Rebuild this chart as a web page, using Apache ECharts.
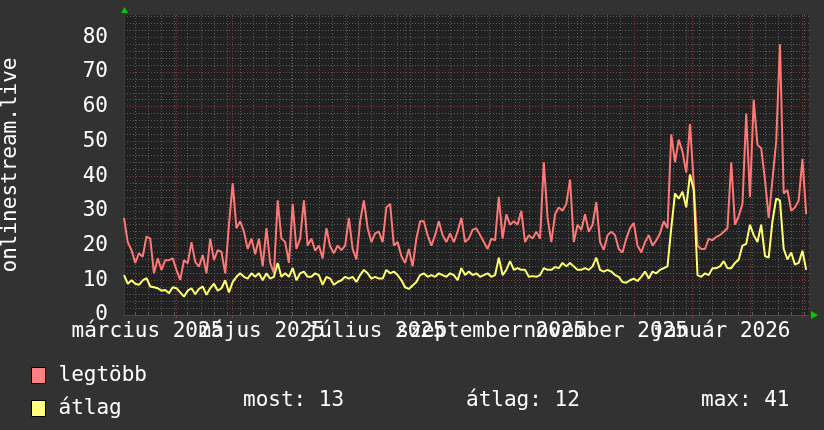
<!DOCTYPE html>
<html>
<head>
<meta charset="utf-8">
<script src="https://cdn.jsdelivr.net/npm/echarts@6/dist/echarts.min.js"></script>
<style>
html,body{margin:0;padding:0;background:#323232;}
#chart{width:824px;height:430px;}
</style>
</head>
<body>
<div id="chart"></div>
<script>
// ---- data (one value every 2 days, starting 2025-03-04) ----
const startYear = 2025, startMonth = 2, startDay = 4;
const stepDays = 2;
const seriesNames = ['legtöbb', 'átlag'];
const legtobb = [
 28,21,18.7,15,17.8,16.8,22.6,22,12,16.3,13,15.8,15.8,16.3,13,10.1,15.8,14.9,21,15.3,
 13.9,17.3,12,22,15.8,18.7,18.2,12,26,38,25,27,24,19,22,17.5,22,14,25,15,
 12,33,22,21,15,32,19,22,33,20,22,18.5,20,16.3,25,19.7,17.8,20,18.7,20,
 28,19,16,27,33,25,21,23.5,24,21,31,32,20,21,17,15,19,14,22,27,
 27,23,20,23,27,23,21,23.5,21,24,28,21,22,24.5,25,23,21,19,22,21.5,
 34,22,29,26,27,26,30,21,23,22,24,22,44,28,21,29,31,30,32,39,
 21,26,24.5,29,24,26,32.5,21,18.8,23,24,23,19,18,22,25,26.5,20,18,21,
 23,20,21.5,23.5,27,25,52,44,50.5,47,41,55,38,20,19,19,22,21.5,22.5,23,
 24,25,44,26,28.5,32,58,34,62,49,48,39,28,39,50,78,35,36,30,31,
 33,45,29
];
const atlag = [
 11.5,9,10,9,8.7,10,10.6,8.2,8,7.7,7,7.2,6.3,8,7.7,6.5,5.3,7,7.7,6,
 7.5,8.2,5.8,7.7,9,7,7.7,10,6.5,9.5,11,12,11,10.5,12,11,12,10,12,10.5,
 11,15,11,12,11,13.5,10,12,12.5,11,11,12,11.5,8.7,11,10.5,8.7,9.5,10,11,
 10.5,11,9.5,11.5,13,12,10.5,11,10.5,10.5,13,12,12.5,11.5,10,8,7.5,8.5,9.5,11.5,
 12,11,11.5,11,12,11.5,11,12,11.5,10,13.5,11.5,12.5,11.5,12,11,11.5,12,11,11.5,
 16.5,11.5,13,15.5,13,13.5,13,13,11,11.2,11,11.5,13.5,13,13,13.8,13.5,15,14,15,
 14,13,13,13.5,13,14,16.5,13,12.5,13,12.5,11.5,11,9.5,9.3,10,10.5,9.8,11,12.5,
 10.5,12.5,12,13,13.5,14,25,35,33.5,35.5,31,40.5,36,11.5,11,12,11.5,13.5,13.5,14,
 15.5,13.5,13.5,15,16,20,20.5,26,23,21,26,17,16.5,27,33.5,33,19,16,18,14.5,
 15,18.5,13
];
const monthNames = ['január','február','március','április','május','június','július','augusztus','szeptember','október','november','december'];
// labelled months: [year, monthIndex]
const labelMonths = [[2025,2],[2025,4],[2025,6],[2025,8],[2025,10],[2026,0]];
const yTicks = [0,10,20,30,40,50,60,70,80];
const yAxisTitle = 'onlinestream.live';
const statLabels = ['most: 13', 'átlag: 12', 'max: 41'];

// ---- derived ----
const DAY = 86400000;
const t0 = Date.UTC(startYear, startMonth, startDay);
const xMin = t0;
const xMax = Date.UTC(2026, 2, 4, 12);
const redData = legtobb.map((v, i) => [t0 + i * stepDays * DAY, v]);
const yelData = atlag.map((v, i) => [t0 + i * stepDays * DAY, v]);

const monthStarts = [];
for (let m = 3; m <= 14; m++) monthStarts.push(Date.UTC(2025, m, 1));
const mondays = [];
for (let t = Date.UTC(2025, 2, 10); t < xMax; t += 7 * DAY) mondays.push(t);
const labelValues = labelMonths.map(([y, m]) => (Date.UTC(y, m, 1) + Date.UTC(y, m + 1, 1)) / 2);
// split into two interleaved sets so that the library draws every label (they overlap in the original)
const labelsA = labelValues.filter((v, i) => i % 2 === 0);
const labelsB = labelValues.filter((v, i) => i % 2 === 1);
function monthLabel(v) {
  const d = new Date(v);
  return monthNames[d.getUTCMonth()] + ' ' + d.getUTCFullYear();
}

const FONT = 'DejaVu Sans Mono';
const minorCol = '#5c5c5c';
const majorCol = '#8a3c3c';
const labelStyle = {color: '#ffffff', fontFamily: FONT, fontSize: 21, margin: 6, hideOverlap: false,
                    showMinLabel: true, showMaxLabel: true, formatter: monthLabel};

const chart = echarts.init(document.getElementById('chart'), null, {renderer: 'canvas'});
chart.setOption({
  backgroundColor: '#323232',
  animation: false,
  grid: {
    left: 124, right: 15, top: 15, bottom: 115,
    show: true, backgroundColor: '#212121', borderWidth: 0,
    outerBoundsMode: 'none', containLabel: false
  },
  legend: {
    orient: 'vertical', left: 31, top: 365,
    itemWidth: 14, itemHeight: 16, itemGap: 12, padding: 0,
    icon: 'rect',
    textStyle: {color: '#ffffff', fontFamily: FONT, fontSize: 21, padding: [0, 0, 0, 8]},
    data: [
      {name: seriesNames[0], itemStyle: {color: '#ff8080', borderColor: '#000', borderWidth: 1}},
      {name: seriesNames[1], itemStyle: {color: '#ffff80', borderColor: '#000', borderWidth: 1}}
    ]
  },
  xAxis: [
    {
      type: 'value', min: xMin, max: xMax, position: 'top',
      axisLine: {show: false},
      axisTick: {show: true, length: 2, customValues: mondays, lineStyle: {color: minorCol}},
      splitLine: {show: true, lineStyle: {color: minorCol, type: [1, 2], width: 1}},
      axisLabel: {show: false}
    },
    {
      type: 'value', min: xMin, max: xMax, position: 'bottom', offset: 0,
      axisLine: {show: true, lineStyle: {color: '#4a4a4a', width: 1}},
      axisTick: {show: true, length: 3, customValues: monthStarts, lineStyle: {color: majorCol}},
      splitLine: {show: true, lineStyle: {color: majorCol, type: [1, 2], width: 1}},
      axisLabel: Object.assign({show: true, customValues: labelsA}, labelStyle)
    },
    {
      type: 'value', min: xMin, max: xMax, position: 'bottom', offset: 0,
      axisLine: {show: false},
      axisTick: {show: false},
      splitLine: {show: false},
      axisLabel: Object.assign({show: true, customValues: labelsB}, labelStyle)
    }
  ],
  yAxis: {
    type: 'value', min: 0, max: 86.4, interval: 10,
    name: yAxisTitle, nameLocation: 'middle', nameRotate: 90, nameGap: 103,
    nameTextStyle: {color: '#ffffff', fontFamily: FONT, fontSize: 21},
    axisLine: {show: true, lineStyle: {color: '#3c3c3c'}},
    axisTick: {show: false},
    axisLabel: {
      color: '#ffffff', fontFamily: FONT, fontSize: 21, margin: 16,
      showMaxLabel: false,
      formatter: v => (yTicks.indexOf(v) >= 0 ? String(v) : '')
    },
    splitLine: {show: true, showMaxLine: false, lineStyle: {color: majorCol, type: [1, 2]}},
    minorTick: {show: false, splitNumber: 5},
    minorSplitLine: {show: true, lineStyle: {color: minorCol, type: [1, 2]}}
  },
  series: [
    {
      name: seriesNames[0], type: 'line', xAxisIndex: 1, data: redData,
      showSymbol: false, symbol: 'none', sampling: 'none', z: 5,
      lineStyle: {color: '#ff7878', width: 2}, itemStyle: {color: '#ff8080'}
    },
    {
      name: seriesNames[1], type: 'line', xAxisIndex: 1, data: yelData,
      showSymbol: false, symbol: 'none', sampling: 'none', z: 6,
      lineStyle: {color: '#ffff70', width: 2}, itemStyle: {color: '#ffff80'}
    }
  ],
  graphic: [
    {type: 'polygon', shape: {points: [[121, 13], [128, 13], [124.5, 7]]}, style: {fill: '#00cc00'}},
    {type: 'polygon', shape: {points: [[811, 311], [811, 319], [818, 315]]}, style: {fill: '#00cc00'}},
    {type: 'text', left: 243, top: 390, style: {text: statLabels[0], fill: '#ffffff', font: '21px "DejaVu Sans Mono"'}},
    {type: 'text', left: 466, top: 390, style: {text: statLabels[1], fill: '#ffffff', font: '21px "DejaVu Sans Mono"'}},
    {type: 'text', left: 701, top: 390, style: {text: statLabels[2], fill: '#ffffff', font: '21px "DejaVu Sans Mono"'}}
  ]
});
</script>
</body>
</html>
